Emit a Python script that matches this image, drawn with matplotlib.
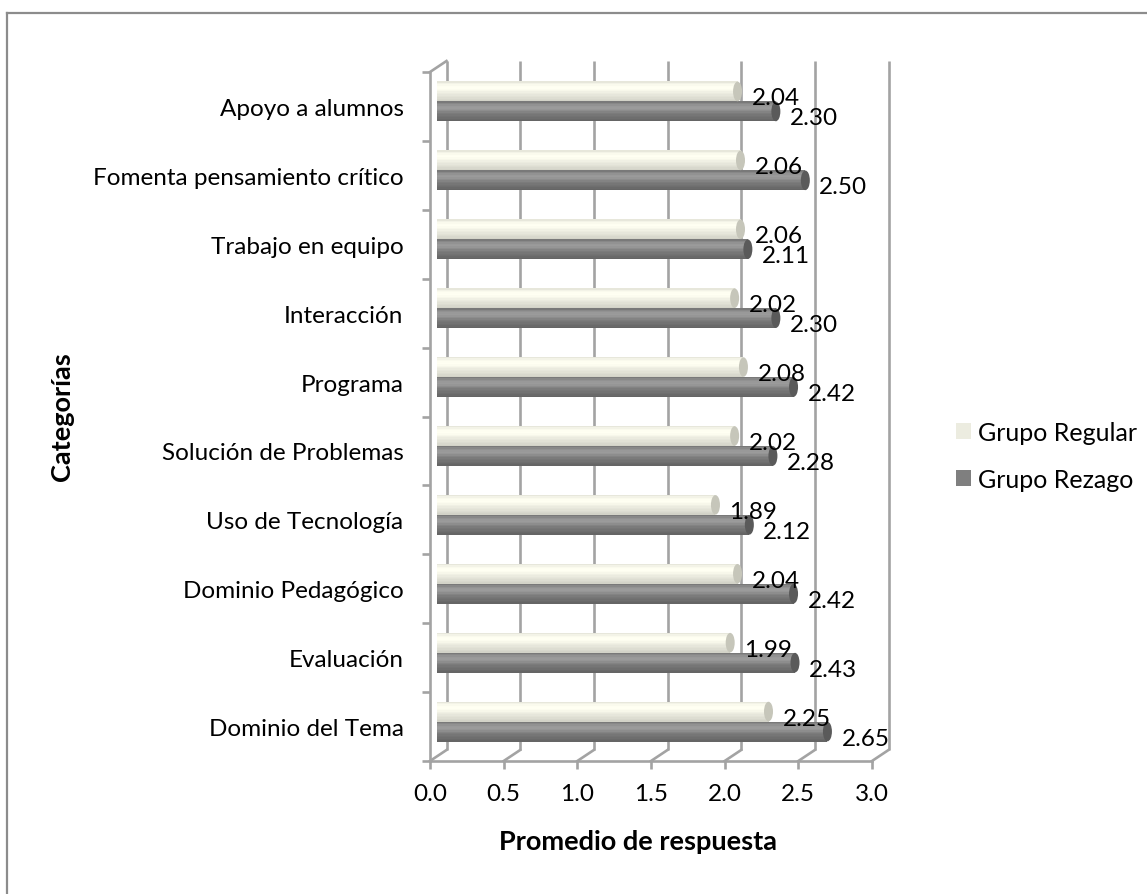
import matplotlib
matplotlib.use("Agg")
import matplotlib.pyplot as plt
from matplotlib.patches import Ellipse, Patch
from matplotlib.lines import Line2D
import numpy as np

# ---- data ----
categories = ["Dominio del Tema", "Evaluación", "Dominio Pedagógico", "Uso de Tecnología",
              "Solución de Problemas", "Programa", "Interacción", "Trabajo en equipo",
              "Fomenta pensamiento crítico", "Apoyo a alumnos"]
grupo_regular = [2.25, 1.99, 2.04, 1.89, 2.02, 2.08, 2.02, 2.06, 2.06, 2.04]
grupo_rezago = [2.65, 2.43, 2.42, 2.12, 2.28, 2.42, 2.30, 2.11, 2.50, 2.30]
series_names = ["Grupo Regular", "Grupo Rezago"]
x_ticks = [0.0, 0.5, 1.0, 1.5, 2.0, 2.5, 3.0]

plt.rcParams['font.family'] = ['Lato', 'DejaVu Sans']

W, H = 1147, 895
fig = plt.figure(figsize=(W / 100, H / 100), dpi=100)
# front plane of the 3D box (pixel geometry)
x0p, x1p, ytop, ybot = 430, 872, 73, 762
ax = fig.add_axes([x0p / W, (H - ybot) / H, (x1p - x0p) / W, (ybot - ytop) / H])
ax.set_xlim(0, 3)
ax.set_ylim(-0.5, len(categories) - 0.5)
kx = (x1p - x0p) / 3.0            # px per x unit
ky = (ybot - ytop) / len(categories)  # px per category

def px(dx):
    return dx / kx

def py(dy):
    return dy / ky

grid_c = "#A3A3A3"
lw_frame = 1.9
# back wall offset and bar offset (pixels)
bdx, bdy = 16.5, 11
mdx, mdy = 7, 5

ymin, ymax = -0.5, len(categories) - 0.5
# back wall vertical gridlines
for xv in x_ticks:
    ax.plot([xv + px(bdx)] * 2, [ymin + py(bdy), ymax + py(bdy)], color=grid_c,
            lw=lw_frame, clip_on=False, zorder=1, solid_capstyle='butt')
    # floor diagonals
    ax.plot([xv, xv + px(bdx)], [ymin, ymin + py(bdy)], color=grid_c, lw=lw_frame,
            clip_on=False, zorder=1)
# top-left diagonal
ax.plot([0, px(bdx)], [ymax, ymax + py(bdy)], color=grid_c, lw=lw_frame, clip_on=False, zorder=1)

# spines (front frame)
for s in ['top', 'right']:
    ax.spines[s].set_visible(False)
for s in ['left', 'bottom']:
    ax.spines[s].set_color(grid_c)
    ax.spines[s].set_linewidth(lw_frame)
ax.set_facecolor('none')

# bars: cylinders made of shaded slices
bh = 0.29
nsl = 14
tt = (np.arange(nsl) + 0.5) / nsl
prof_reg = 1.02 + 0.06 * np.exp(-((tt - 0.3) / 0.18) ** 2) - 0.30 * np.clip(tt - 0.45, 0, None) ** 1.3 - 0.06 * np.exp(-(tt / 0.08) ** 2)
prof_rez = 1.0 + 0.22 * np.exp(-((tt - 0.3) / 0.2) ** 2) - 0.45 * np.clip(tt - 0.45, 0, None) ** 1.2 - 0.1 * np.exp(-(tt / 0.08) ** 2)
base_reg = np.array([236, 236, 224]) / 255
base_rez = np.array([127, 127, 127]) / 255
cap_reg = "#C6C6BA"
cap_rez = "#5A5A5A"

ypos = np.arange(len(categories))
for vals, sign, base, prof, capc in [(grupo_regular, +1, base_reg, prof_reg, cap_reg),
                                     (grupo_rezago, -1, base_rez, prof_rez, cap_rez)]:
    centers = ypos + sign * bh / 2 + py(mdy)
    for k in range(nsl):
        col = np.clip(base * prof[k], 0, 1)
        yk = centers + bh / 2 - (k + 0.5) * bh / nsl
        ax.barh(yk, vals, height=bh / nsl * 1.02, left=px(mdx), color=col,
                edgecolor='none', zorder=3, clip_on=False)
    for v, c in zip(vals, centers):
        ax.add_patch(Ellipse((v + px(mdx), c), width=px(9), height=bh * 0.98,
                             facecolor=capc, edgecolor='none', zorder=4, clip_on=False))

FS = 17.5
# data labels
for vals, sign in [(grupo_regular, +1), (grupo_rezago, -1)]:
    for i, v in enumerate(vals):
        ax.text(v + px(21), i + sign * py(10) - py(1.5), f"{v:.2f}", ha='left', va='center',
                fontsize=FS, color='black', zorder=5)

# ticks
ax.set_xticks(x_ticks)
ax.set_xticklabels([f"{t:.1f}" for t in x_ticks], fontsize=FS)
ax.tick_params(axis='x', length=6, width=lw_frame, color=grid_c, pad=10)
ax.set_yticks(ypos)
ax.set_yticklabels(categories, fontsize=FS)
ax.tick_params(axis='y', which='major', length=0, pad=19)
ax.set_yticks(np.arange(len(categories) + 1) - 0.5, minor=True)
ax.tick_params(axis='y', which='minor', length=6, width=lw_frame, color=grid_c)

fig.text(638 / W, 1 - 842 / H, "Promedio de respuesta", fontsize=19.5, fontweight='bold',
         ha='center', va='center')
fig.text(62 / W, 1 - 417 / H, "Categorías", rotation=90, fontsize=19.5, fontweight='bold',
         ha='center', va='center')

# legend
handles = [Patch(facecolor=base_reg, edgecolor='none'), Patch(facecolor=base_rez, edgecolor='none')]
fig.legend(handles, series_names, loc='center left', bbox_to_anchor=(956 / W, 1 - 457 / H),
           frameon=False, fontsize=18, handlelength=0.6, handleheight=0.6,
           handletextpad=0.3, labelspacing=0.95, borderaxespad=0, borderpad=0)

# outer chart border (left and top)
fig.add_artist(Line2D([7.5 / W, 7.5 / W], [0, 1 - 13.5 / H], color="#8C8C8C", lw=1.6))
fig.add_artist(Line2D([7.5 / W, 1], [1 - 13.5 / H, 1 - 13.5 / H], color="#8C8C8C", lw=1.6))

fig.savefig("out.png", dpi=100)
